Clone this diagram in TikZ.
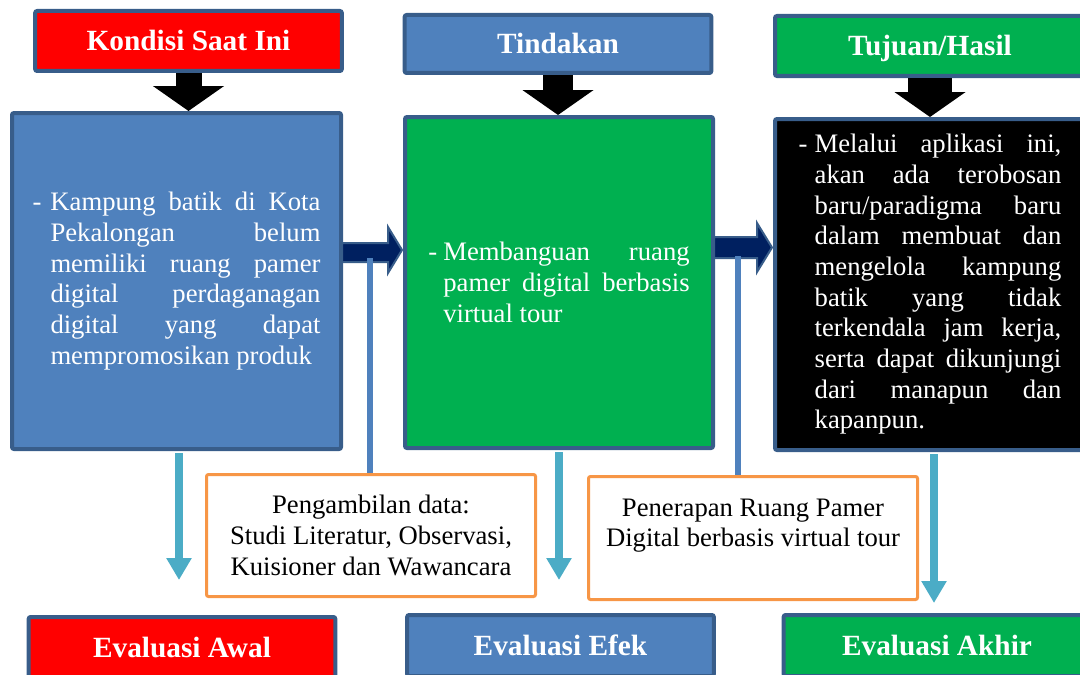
\documentclass[tikz,border=0pt]{standalone}
\usepackage{fontspec}
\setmainfont{Liberation Serif}
\usetikzlibrary{arrows.meta,calc}
\definecolor{boxred}{HTML}{FF0000}
\definecolor{boxblue}{HTML}{4F81BD}
\definecolor{boxgreen}{HTML}{00B050}
\definecolor{rim}{HTML}{385D8A}
\definecolor{navy}{HTML}{002060}
\definecolor{sky}{HTML}{4BACC6}
\definecolor{peach}{HTML}{F79646}
\hbadness=10000
\tolerance=10000
\hyphenpenalty=10000
\newcommand{\dashlead}[1]{\noindent\hangindent=#1\hangafter=1\makebox[#1][l]{-}}

\begin{document}
\begin{tikzpicture}[x=0.75pt,y=-0.75pt,
head/.style={draw=rim,line width=3pt,rounded corners=1.5pt,minimum width=230pt,minimum height=45pt,
  text=white,text height=14.5pt,text depth=0pt,font=\fontsize{22}{26}\selectfont\bfseries},
big/.style={draw=rim,line width=3pt,rounded corners=1.5pt,text=white,inner sep=0pt,align=justify,
  font=\fontsize{20}{23}\selectfont},
data/.style={draw=peach,line width=2.25pt,rounded corners=1.5pt,fill=white,minimum width=246.75pt,
  align=center,font=\fontsize{20}{23}\selectfont},
downarrow/.style={draw=black,-{Triangle[width=52.5pt,length=18.75pt]}},
blockright/.style={fill=navy,draw=rim,line width=1.5pt},
tap/.style={draw=boxblue,line width=5pt},
evalarrow/.style={draw=sky,line width=6pt,shorten <=1.5pt,-{Triangle[width=18pt,length=16.5pt]}}]
\useasboundingbox (0,0) rectangle (1080,674);
\clip (0,0) rectangle (1080,674);
\path
(188.5,41)  node[head,fill=boxred] (h1) {Kondisi Saat Ini}
(558,44)    node[head,fill=boxblue,minimum height=43.5pt] (h2) {Tindakan}
(930,46)    node[head,fill=boxgreen,minimum width=232.5pt] (h3) {Tujuan/Hasil}
(176.5,281) node[big,fill=boxblue,minimum width=246.75pt,minimum height=252pt,text width=216pt] (b1)
  {\dashlead{13.5pt}Kampung batik di Kota\linebreak Pekalongan belum\linebreak memiliki ruang pamer\linebreak
   digital perdaganagan\linebreak digital yang dapat\linebreak mempromosikan produk\par}
(559,282.5) node[big,fill=boxgreen,minimum width=231pt,minimum height=248.25pt,text width=196pt] (b2)
  {\dashlead{11.25pt}Membanguan ruang\linebreak pamer digital berbasis\linebreak virtual tour\par}
(930,284.5) node[big,fill=black,minimum width=232.5pt,minimum height=248.25pt,text width=197pt] (b3)
  {\dashlead{12pt}Melalui aplikasi ini,\linebreak akan ada terobosan\linebreak baru/paradigma baru\linebreak
   dalam membuat dan\linebreak mengelola kampung\linebreak batik yang tidak\linebreak terkendala jam kerja,\linebreak
   serta dapat dikunjungi\linebreak dari manapun dan\linebreak kapanpun.\par}
(371,535.5) node[data,minimum height=91.5pt] (d1) {Pengambilan data:\\Studi Literatur, Observasi,\\Kuisioner dan Wawancara}
(753,538)   node[data,minimum height=92.25pt] (d2) {Penerapan Ruang Pamer\\Digital berbasis virtual tour\\\mbox{}}
(182,647.5) node[head,fill=boxred,minimum height=45.75pt] (e1) {Evaluasi Awal}
(560.5,645.5) node[head,fill=boxblue,minimum height=45.75pt] (e2) {Evaluasi Efek}
(937,645.5) node[head,fill=boxgreen,minimum height=45.75pt] (e3) {Evaluasi Akhir}
;
\draw[downarrow,line width=19.5pt] (h1.south) -- (h1.south |- b1.north);
\draw[downarrow,line width=23pt] (h2.south) -- (h2.south |- b2.north);
\draw[downarrow,line width=33pt] (h3.south) -- (h3.south |- b3.north);
\filldraw[blockright] (342,243) -- (388,243) -- (388,227) -- (402,250) -- (388,273) -- (388,262) -- (342,262) -- cycle;
\filldraw[blockright] (714,237) -- (757,237) -- (757,223) -- (772,247.5) -- (757,272) -- (757,258) -- (714,258) -- cycle;
\coordinate (t1) at (370,258);
\coordinate (t2) at (738,256);
\draw[tap] (t1) -- (t1 |- d1.north);
\draw[tap] (t2) -- (t2 |- d2.north);
\coordinate (c1) at (179,580);
\coordinate (c2) at (559,580);
\coordinate (c3) at (934,603);
\draw[evalarrow] (b1.south -| c1) -- (c1);
\draw[evalarrow] (b2.south -| c2) -- (c2);
\draw[evalarrow] (b3.south -| c3) -- (c3);
\end{tikzpicture}
\end{document}
